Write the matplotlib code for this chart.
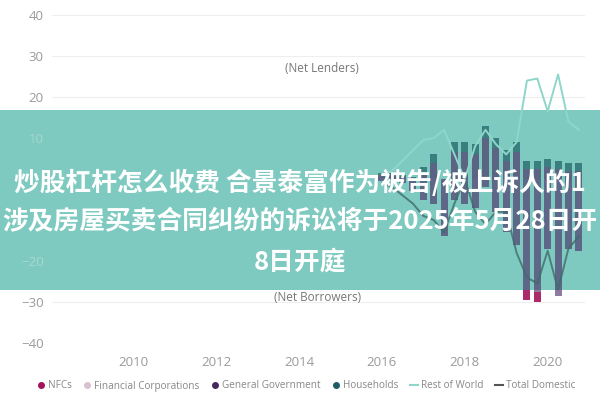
import matplotlib
matplotlib.use("Agg")
import matplotlib.pyplot as plt
from matplotlib.lines import Line2D
from matplotlib.patches import Rectangle
import numpy as np

plt.rcParams['font.family'] = ['Open Sans', 'DejaVu Sans']

# quarterly positions (decimal years)
quarters = [2016.0, 2016.25, 2016.5, 2016.75, 2017.0, 2017.25, 2017.5, 2017.75,
            2018.0, 2018.25, 2018.5, 2018.75, 2019.0, 2019.25, 2019.5, 2019.75,
            2020.0, 2020.25, 2020.5, 2020.75]
households = [0.5, 0.5, 0.5, 0.3, 1.5, 2.0, 0.0, 2.5, 2.5, 2.5, 3.0, 2.5, 2.5, 2.5, 2.0, 2.0, 2.0, 2.0, 2.0, 2.0]
general_government = [1.0, 1.0, 0.5, 0.2, 1.5, 4.0, 0.0, 6.5, 6.5, 6.0, 10.0, 7.5, 4.5, 6.5, 2.5, 2.5, 3.0, 2.5, 2.0, 2.0]
financial_corps = [-0.5, -0.5, -1.0, -3.0, -5.0, -6.0, -14.0, -5.0, -6.0, -7.0, -2.0, -8.0, -13.0, -16.0, -27.0, -27.5, -17.0, -28.5, -17.0, -17.5]
nfcs = [0, 0, 0, 0, 0, 0, 0, 0, 0, 0, 0, 0, 0, 0, -2.5, -2.5, 0, 0, 0, 0]
rest_of_world = [1, 2, 4.5, 7, 9.5, 10, 12, 6, 0, 8, 12, 8.5, 6, 9, 24, 24.5, 16.5, 25.5, 14, 12]
total_domestic = [-1, -2, -4, -6, -9, -10, -13, -6, 0, -8, -11, -8, -8, -18, -24, -25.5, -17.5, -27, -17, -14]
x_ticks = [2010, 2012, 2014, 2016, 2018, 2020]
y_ticks = [-40, -30, -20, -10, 0, 10, 20, 30, 40]

c_nfc = '#a3135a'
c_fc = '#4a2a66'
c_gov = '#46285e'
c_hh = '#1d5e66'
c_row = '#8fd6ca'
c_td = '#3f6b6b'

fig = plt.figure(figsize=(6, 4), dpi=100)
ax = fig.add_axes([0.087, 0.1425, 0.888, 0.82])
ax.set_zorder(1)
ax.set_facecolor('none')

# banner behind marks
fig.patches.append(Rectangle((0, 0.275), 1, 0.45, transform=fig.transFigure,
                             facecolor='#7fcac0', edgecolor='none', zorder=0))

x = np.array(quarters)
w = 0.17
gov = np.array(general_government)
hh = np.array(households)
fc = np.array(financial_corps)
nf = np.array(nfcs)
a = 0.62
ax.bar(x, gov, w, color=c_gov, alpha=a, zorder=3)
ax.bar(x, hh, w, bottom=gov, color=c_hh, alpha=0.7, zorder=3)
ax.bar(x, fc, w, color=c_fc, alpha=a, zorder=3)
ax.bar(x, nf, w, bottom=fc, color=c_nfc, alpha=0.9, zorder=3)
ax.plot(x, rest_of_world, color=c_row, lw=1.4, zorder=4)
ax.plot(x, total_domestic, color=c_td, lw=1.4, alpha=0.8, zorder=4)

ax.set_xlim(2008.05, 2020.9)
ax.set_ylim(-40, 40)
ax.set_xticks(x_ticks)
ax.set_yticks(y_ticks)
for v in y_ticks:
    if v > 15 or v < -25:
        ax.axhline(v, color='#eeeeee', lw=0.8, zorder=0)
for s in ax.spines.values():
    s.set_visible(False)
ax.tick_params(length=0, labelsize=9.5, colors='#9a9a9a')
ax.tick_params(axis='x', pad=9)
ax.tick_params(axis='y', pad=6)
for lab, v in zip(ax.get_yticklabels(), y_ticks):
    if v in (0, -10):
        lab.set_visible(False)
    elif -25 < v < 15:
        lab.set_color('#a6d8d0')

ax.text(2014.55, 27, '(Net Lenders)', ha='center', va='center', fontsize=8.5, color='#777777', zorder=2)
ax.text(2014.45, -28.8, '(Net Borrowers)', ha='center', va='center', fontsize=8.5, color='#777777', zorder=2)

handles = [
    Line2D([], [], marker='o', ls='', color=c_nfc, markersize=4),
    Line2D([], [], marker='o', ls='', color='#d8c2d0', markersize=4),
    Line2D([], [], marker='o', ls='', color=c_gov, markersize=4),
    Line2D([], [], marker='o', ls='', color=c_hh, markersize=4),
    Line2D([], [], color=c_row, lw=1.5),
    Line2D([], [], color='#555555', lw=1.5),
]
labels = ['NFCs', 'Financial Corporations', 'General Government', 'Households', 'Rest of World', 'Total Domestic']
fig.legend(handles, labels, loc='center', bbox_to_anchor=(0.51, 0.035), ncol=6, frameon=False,
           fontsize=7.2, labelcolor='#888888', handlelength=0.8, handletextpad=0.25, columnspacing=1.2)

cjk = ['Noto Sans CJK SC', 'DejaVu Sans']
fig.text(0.5, 1 - 183 / 400, '炒股杠杆怎么收费 合景泰富作为被告/被上诉人的1', ha='center', va='center',
         fontsize=18.5, fontweight='bold', color='white', family=cjk, zorder=10)
fig.text(0.5, 1 - 222 / 400, '涉及房屋买卖合同纠纷的诉讼将于2025年5月28日开', ha='center', va='center',
         fontsize=18.5, fontweight='bold', color='white', family=cjk, zorder=10)
fig.text(0.5, 1 - 262 / 400, '8日开庭', ha='center', va='center',
         fontsize=18.5, fontweight='bold', color='white', family=cjk, zorder=10)

fig.savefig('out.png', dpi=100)
